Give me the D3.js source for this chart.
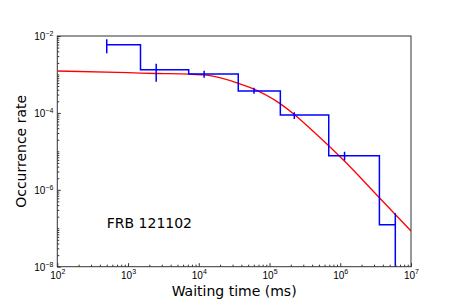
<!DOCTYPE html>
<html>
<head>
<meta charset="utf-8">
<script src="https://cdn.jsdelivr.net/npm/d3@7"></script>
<style>
  body { margin: 0; background: #fff; }
  svg { display: block; font-family: "DejaVu Sans", sans-serif; }
</style>
</head>
<body>
<div id="chart"></div>
<script>
// binned waiting times (ms) and occurrence rates
var waitTimes = [500, 2500, 11900, 60400, 224000, 1150000, 6000000];
var rates     = [5.94e-3, 1.33e-3, 1.03e-3, 3.72e-4, 8.81e-5, 7.71e-6, 1.24e-7];
var rateHigh  = [8.20e-3, 1.905e-3, 1.253e-3, 4.52e-4, 1.038e-4, 9.79e-6, 2.45e-7];
var rateLow   = [3.55e-3, 6.49e-4, 8.22e-4, 3.16e-4, 6.93e-5, 5.78e-6, 0];

// fitted model curve, sampled points
var modelTimes = [1e2, 1e3, 2.5e3, 7.3e3, 1.2e4, 3.63e4, 5.37e4, 1.41e5, 2.24e5, 3.72e5, 1.1e6, 3.55e6, 1e7];
var modelRates = [1.23e-3, 1.11e-3, 1.06e-3, 1.02e-3, 9.7e-4, 5.89e-4, 4.52e-4, 1.74e-4, 9.1e-5, 3.98e-5, 6.03e-6, 6.3e-7, 8.5e-8];

var xTicks = [1e2, 1e3, 1e4, 1e5, 1e6, 1e7];
var yTicks = [1e-8, 1e-6, 1e-4, 1e-2];
var label = "FRB 121102";
var labelAt = [500, 1e-7];

var width = 457, height = 305;
var plotLeft = 57.3, plotRight = 411, plotTop = 36, plotBottom = 266.7;

var svg = d3.select("#chart").append("svg")
  .attr("width", width)
  .attr("height", height);

var x = d3.scaleLog().domain([1e2, 1e7]).range([plotLeft, plotRight]);
var y = d3.scaleLog().domain([1e-8, 1e-2]).range([plotBottom, plotTop]);

svg.append("clipPath").attr("id", "plotclip")
  .append("rect")
    .attr("x", plotLeft).attr("y", plotTop)
    .attr("width", plotRight - plotLeft).attr("height", plotBottom - plotTop);

var plot = svg.append("g").attr("clip-path", "url(#plotclip)");

// model curve
var modelLine = d3.line()
  .x(function(d) { return x(d[0]); })
  .y(function(d) { return y(d[1]); })
  .curve(d3.curveMonotoneX);

plot.append("path")
  .datum(modelTimes.map(function(t, i) { return [t, modelRates[i]]; }))
  .attr("fill", "none")
  .attr("stroke", "#ff0000")
  .attr("stroke-width", 1.3)
  .attr("d", modelLine);

// histogram as a step line, steps at mid points (matplotlib where='mid')
var steps = [[waitTimes[0], rates[0]]];
for (var i = 1; i < waitTimes.length; i++) {
  var mid = (waitTimes[i - 1] + waitTimes[i]) / 2;
  steps.push([mid, rates[i - 1]]);
  steps.push([mid, rates[i]]);
}
steps.push([waitTimes[waitTimes.length - 1], rates[rates.length - 1]]);

plot.append("path")
  .datum(steps)
  .attr("fill", "none")
  .attr("stroke", "#0000ff")
  .attr("stroke-width", 1.5)
  .attr("d", d3.line()
    .x(function(d) { return x(d[0]); })
    .y(function(d) { return y(d[1]); }));

// error bars
plot.selectAll(".err")
  .data(waitTimes)
  .enter()
  .append("line")
    .attr("class", "err")
    .attr("x1", function(d) { return x(d); })
    .attr("x2", function(d) { return x(d); })
    .attr("y1", function(d, i) { return y(rateHigh[i]); })
    .attr("y2", function(d, i) { return rateLow[i] > 0 ? y(rateLow[i]) : plotBottom + 5; })
    .attr("stroke", "#0000ff")
    .attr("stroke-width", 1.5);

// minor ticks
function minorTicks(lo, hi, skip) {
  var out = [];
  for (var e = lo; e < hi; e++) {
    for (var m = 1; m < 10; m++) {
      var v = m * Math.pow(10, e);
      if (m === 1 && skip(e)) continue;
      out.push(v);
    }
  }
  return out;
}
var xMinor = minorTicks(2, 7, function() { return true; });
var yMinor = minorTicks(-8, -2, function(e) { return e % 2 === 0; });

function supLabel(sel, exp) {
  sel.text(null);
  sel.append("tspan").text("10");
  sel.append("tspan")
    .attr("font-size", "7px")
    .attr("dy", "-0.6em")
    .text(String(exp).replace("-", "\u2212"));
}

var axisColor = "#333";

var xAxis = svg.append("g")
  .attr("transform", "translate(0," + plotBottom + ")")
  .call(d3.axisBottom(x).tickValues(xTicks).tickSize(-3.5).tickFormat(""));
xAxis.append("g")
  .call(d3.axisBottom(x).tickValues(xMinor).tickSize(-2).tickFormat(""));
xAxis.selectAll(".tick").filter(function(d) { return xTicks.indexOf(d) >= 0; })
  .append("text")
    .attr("y", 12)
    .attr("fill", "#000")
    .attr("font-size", "10px")
    .attr("text-anchor", "middle")
    .each(function(d) { supLabel(d3.select(this), Math.round(Math.log10(d))); });

var yAxis = svg.append("g")
  .attr("transform", "translate(" + plotLeft + ",0)")
  .call(d3.axisLeft(y).tickValues(yTicks).tickSize(-3.5).tickFormat(""));
yAxis.append("g")
  .call(d3.axisLeft(y).tickValues(yMinor).tickSize(-2).tickFormat(""));
yAxis.selectAll(".tick").filter(function(d) { return yTicks.indexOf(d) >= 0; })
  .append("text")
    .attr("x", -4)
    .attr("dy", "0.35em")
    .attr("fill", "#000")
    .attr("font-size", "10px")
    .attr("text-anchor", "end")
    .each(function(d) { supLabel(d3.select(this), Math.round(Math.log10(d))); });

svg.selectAll(".domain").remove();
svg.selectAll(".tick line").attr("stroke", axisColor);

// frame
svg.append("rect")
  .attr("x", plotLeft).attr("y", plotTop)
  .attr("width", plotRight - plotLeft).attr("height", plotBottom - plotTop)
  .attr("fill", "none")
  .attr("stroke", axisColor)
  .attr("stroke-width", 1);

svg.append("text")
  .attr("x", (plotLeft + plotRight) / 2)
  .attr("y", 295.5)
  .attr("text-anchor", "middle")
  .attr("font-size", "14px")
  .text("Waiting time (ms)");

svg.append("text")
  .attr("transform", "translate(26," + (plotTop + plotBottom) / 2 + ") rotate(-90)")
  .attr("text-anchor", "middle")
  .attr("font-size", "14px")
  .text("Occurrence rate");

svg.append("text")
  .attr("x", x(labelAt[0]))
  .attr("y", y(labelAt[1]))
  .attr("font-size", "14px")
  .text(label);
</script>
</body>
</html>
